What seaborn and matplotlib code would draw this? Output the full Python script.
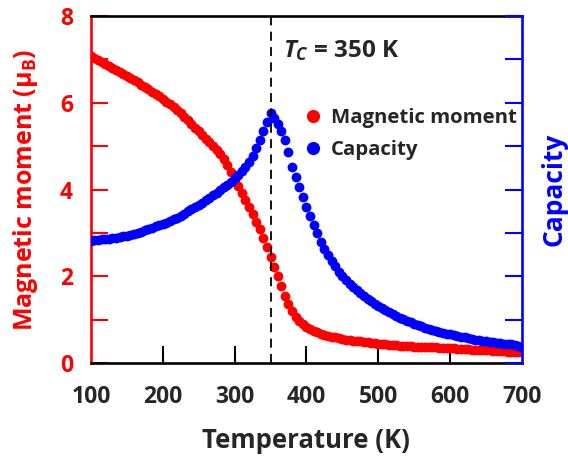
import numpy as np
import pandas as pd
import matplotlib
matplotlib.use("Agg")
import matplotlib.pyplot as plt
from matplotlib.lines import Line2D
import seaborn as sns

# Temperature grid (K)
temperature = np.arange(100, 705, 5)

# Magnetic moment (mu_B)
magnetic_moment = [
    7.07, 7.03, 6.98, 6.94, 6.89, 6.85, 6.80, 6.76, 6.71, 6.67,
    6.62, 6.57, 6.52, 6.47, 6.42, 6.37, 6.31, 6.26, 6.20, 6.15,
    6.09, 6.03, 5.97, 5.91, 5.84, 5.76, 5.68, 5.60, 5.51, 5.43,
    5.34, 5.26, 5.17, 5.09, 5.00, 4.92, 4.83, 4.70, 4.56, 4.40,
    4.23, 4.08, 3.93, 3.77, 3.60, 3.43, 3.26, 3.08, 2.88, 2.67,
    2.45, 2.22, 2.00, 1.77, 1.55, 1.36, 1.20, 1.07, 0.97, 0.89,
    0.83, 0.78, 0.74, 0.71, 0.68, 0.65, 0.63, 0.61, 0.59, 0.57,
    0.56, 0.54, 0.53, 0.52, 0.51, 0.50, 0.49, 0.48, 0.47, 0.46,
    0.45, 0.44, 0.43, 0.42, 0.41, 0.41, 0.40, 0.40, 0.39, 0.39,
    0.38, 0.38, 0.37, 0.37, 0.36, 0.36, 0.36, 0.35, 0.35, 0.35,
    0.34, 0.34, 0.33, 0.33, 0.32, 0.32, 0.31, 0.31, 0.30, 0.30,
    0.29, 0.29, 0.28, 0.28, 0.27, 0.27, 0.26, 0.26, 0.25, 0.25,
    0.25,
]

# Capacity (arbitrary units, right axis)
capacity = [
    2.82, 2.83, 2.84, 2.86, 2.87, 2.87, 2.88, 2.89, 2.90, 2.92,
    2.93, 2.95, 2.98, 3.00, 3.03, 3.06, 3.09, 3.12, 3.15, 3.18,
    3.21, 3.24, 3.27, 3.31, 3.35, 3.40, 3.44, 3.50, 3.55, 3.59,
    3.64, 3.70, 3.75, 3.81, 3.87, 3.93, 3.99, 4.05, 4.11, 4.18,
    4.26, 4.34, 4.43, 4.52, 4.63, 4.78, 4.95, 5.14, 5.35, 5.55,
    5.76, 5.66, 5.52, 5.36, 5.15, 4.86, 4.52, 4.28, 4.05, 3.82,
    3.60, 3.38, 3.18, 2.99, 2.80, 2.63, 2.48, 2.35, 2.23, 2.11,
    2.00, 1.91, 1.83, 1.75, 1.68, 1.61, 1.54, 1.48, 1.42, 1.36,
    1.31, 1.26, 1.22, 1.17, 1.13, 1.09, 1.05, 1.01, 0.98, 0.94,
    0.91, 0.88, 0.85, 0.82, 0.79, 0.77, 0.74, 0.72, 0.70, 0.68,
    0.66, 0.64, 0.62, 0.60, 0.59, 0.57, 0.56, 0.54, 0.53, 0.51,
    0.50, 0.49, 0.48, 0.47, 0.46, 0.45, 0.44, 0.43, 0.41, 0.40,
    0.38,
]

curie_temperature = 350
x_ticks = [100, 200, 300, 400, 500, 600, 700]
y_ticks = [0, 2, 4, 6, 8]

df = pd.DataFrame({
    "Temperature": temperature,
    "Magnetic moment": magnetic_moment,
    "Capacity": capacity,
})

RED = "#ff0000"
BLUE = "#0000ff"
FONT = "Open Sans"

sns.set_style("ticks")
plt.rcParams["font.family"] = [FONT, "DejaVu Sans"]
plt.rcParams["font.weight"] = "bold"
plt.rcParams["mathtext.fontset"] = "custom"
plt.rcParams["mathtext.rm"] = f"{FONT}:bold"
plt.rcParams["mathtext.it"] = f"{FONT}:italic:bold"
plt.rcParams["mathtext.bf"] = f"{FONT}:bold"

fig = plt.figure(figsize=(5.68, 4.59), dpi=100)
ax = fig.add_axes([0.160, 0.209, 0.759, 0.756])
ax2 = ax.twinx()

sns.scatterplot(data=df, x="Temperature", y="Magnetic moment", ax=ax,
                color=RED, s=50, linewidth=0, zorder=3)
sns.scatterplot(data=df, x="Temperature", y="Capacity", ax=ax2,
                color=BLUE, s=50, linewidth=0, zorder=3)

ax2.axvline(curie_temperature, color="black", lw=1.3,
            dashes=(5, 3.5), zorder=4)

ax.set_xlim(100, 700)
ax.set_ylim(0, 8)
ax2.set_ylim(0, 8)

# Spines
lw_sp = 1.9
for side in ["top", "bottom"]:
    ax.spines[side].set_color("black")
    ax.spines[side].set_linewidth(lw_sp)
ax.spines["left"].set_color(RED)
ax.spines["left"].set_linewidth(lw_sp)
ax.spines["right"].set_visible(False)
ax2.spines["left"].set_visible(False)
ax2.spines["top"].set_visible(False)
ax2.spines["bottom"].set_visible(False)
ax2.spines["right"].set_color(BLUE)
ax2.spines["right"].set_linewidth(lw_sp)

# Ticks
ax.set_xticks(x_ticks)
ax.set_yticks(y_ticks)
ax.set_yticks([1, 3, 5, 7], minor=True)
ax.tick_params(axis="x", direction="in", length=12, width=1.5,
               color="black", labelsize=16.5, pad=16, top=False)
ax.tick_params(axis="y", which="both", direction="in", length=12,
               width=1.5, color=RED, labelcolor=RED, labelsize=16.5, pad=13)
for t in (ax.xaxis.get_major_ticks()[0], ax.xaxis.get_major_ticks()[-1]):
    t.tick1line.set_visible(False)
ax2.set_yticks(range(0, 9))
ax2.tick_params(axis="y", direction="in", length=12, width=1.5,
                color=BLUE, labelright=False)

for lab in ax.get_xticklabels() + ax.get_yticklabels():
    lab.set_fontweight("bold")

ax.set_xlabel("Temperature (K)", fontsize=18.5, fontweight="bold",
              labelpad=13)
ax.set_ylabel("Magnetic moment (μ$_\\mathregular{B}$)", fontsize=18,
              fontweight="bold", color=RED, labelpad=14)
ax2.set_ylabel("Capacity", fontsize=19, fontweight="bold", color=BLUE,
               labelpad=13)

ax2.text(0.446, 0.9, "$T_C$ = 350 K", transform=ax.transAxes,
         fontsize=17.5, fontweight="bold", ha="left", va="center")

handles = [
    Line2D([], [], marker="o", ls="none", color=RED, markersize=9.5,
           markeredgewidth=0),
    Line2D([], [], marker="o", ls="none", color=BLUE, markersize=9.5,
           markeredgewidth=0),
]
fig.legend(handles, ["Magnetic moment", "Capacity"], loc="upper left",
           bbox_to_anchor=(0.515, 0.783), frameon=False,
           prop={"size": 14.7, "weight": "bold"}, handletextpad=0.3,
           labelspacing=0.62, handlelength=1.2, borderaxespad=0)

fig.savefig("out.png", dpi=100)
